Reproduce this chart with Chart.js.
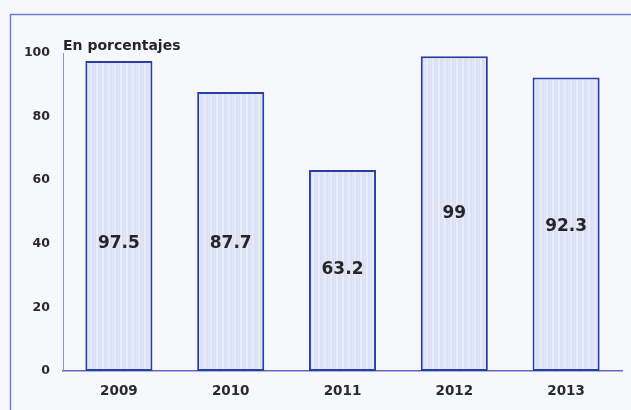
<!DOCTYPE html>
<html>
<head>
<meta charset="utf-8">
<script src="https://cdn.jsdelivr.net/npm/chart.js@4/dist/chart.umd.min.js"></script>
<style>
  html, body { margin: 0; padding: 0; background: #f6f8fc; overflow: hidden; }
  #wrap { width: 631px; height: 410px; position: relative; }
</style>
</head>
<body>
<div id="wrap"><canvas id="grafico"></canvas></div>
<script>
const years = ["2009", "2010", "2011", "2012", "2013"]
const percents = [97.5, 87.7, 63.2, 99, 92.3]
const yTicks = [0, 20, 40, 60, 80, 100]

const FONT = "'DejaVu Sans', sans-serif"

// light fill with faint vertical stripes, like the printed bars
function stripePattern() {
    const c = document.createElement("canvas")
    c.width = 6
    c.height = 4
    const g = c.getContext("2d")
    g.fillStyle = "#dae0f5"
    g.fillRect(0, 0, 6, 4)
    g.fillStyle = "#e8ecf9"
    g.fillRect(0, 0, 2, 4)
    g.fillStyle = "#e2e8f3"
    g.fillRect(4, 0, 1, 4)
    return g.createPattern(c, "repeat")
}

// frame, title and value labels
const decor = {
    id: "decor",
    beforeDraw(chart) {
        const ctx = chart.ctx
        ctx.save()
        ctx.fillStyle = "#f6f8fc"
        ctx.fillRect(0, 0, chart.width, chart.height)
        ctx.strokeStyle = "#6f7fcc"
        ctx.lineWidth = 1.5
        ctx.beginPath()
        ctx.moveTo(10.5, chart.height + 5)
        ctx.lineTo(10.5, 14.5)
        ctx.lineTo(chart.width + 5, 14.5)
        ctx.stroke()
        ctx.restore()
    },
    afterDatasetsDraw(chart, args, opts) {
        const ctx = chart.ctx
        const meta = chart.getDatasetMeta(0)
        const y = chart.scales.y
        ctx.save()
        ctx.fillStyle = "#262626"
        ctx.font = "bold 14px " + FONT
        ctx.textBaseline = "alphabetic"
        ctx.fillText("En porcentajes", 63, 50)
        ctx.font = "bold 17px " + FONT
        ctx.textAlign = "center"
        ctx.textBaseline = "middle"
        meta.data.forEach((bar, i) => {
            const v = chart.data.datasets[0].data[i]
            ctx.fillText(String(v), bar.x, y.getPixelForValue(opts.levels[i]))
        })
        ctx.restore()
    }
}

new Chart(document.getElementById("grafico"), {
    type: "bar",
    data: {
        labels: years,
        datasets: [
            {
                data: percents,
                backgroundColor: stripePattern(),
                borderColor: "#2a3ea6",
                borderWidth: 2,
                borderSkipped: false,
                barPercentage: 0.6,
                categoryPercentage: 1
            }
        ]
    },
    options: {
        responsive: true,
        maintainAspectRatio: false,
        animation: false,
        layout: { padding: { left: 0, top: 53, right: 9, bottom: 0 } },
        plugins: {
            legend: { display: false },
            tooltip: { enabled: false },
            decor: { levels: [40, 40, 32, 49.5, 45.5] }
        },
        scales: {
            x: {
                grid: { display: false, drawTicks: false },
                border: { display: true, color: "#5a6cc4", width: 1.5 },
                ticks: { color: "#2a2a2a", font: { family: FONT, size: 13.5, weight: "bold" }, padding: 12 },
                afterFit(scale) { scale.height = 39 }
            },
            y: {
                min: 0,
                max: 100,
                afterBuildTicks(scale) { scale.ticks = yTicks.map(v => ({ value: v })) },
                grid: { display: false, drawTicks: false },
                border: { display: true, color: "#8a96c8", width: 1 },
                ticks: { color: "#2a2a2a", font: { family: FONT, size: 12.5, weight: "bold" }, padding: 13 },
                afterFit(scale) { scale.width = 63 }
            }
        }
    },
    plugins: [decor]
})
</script>
</body>
</html>
